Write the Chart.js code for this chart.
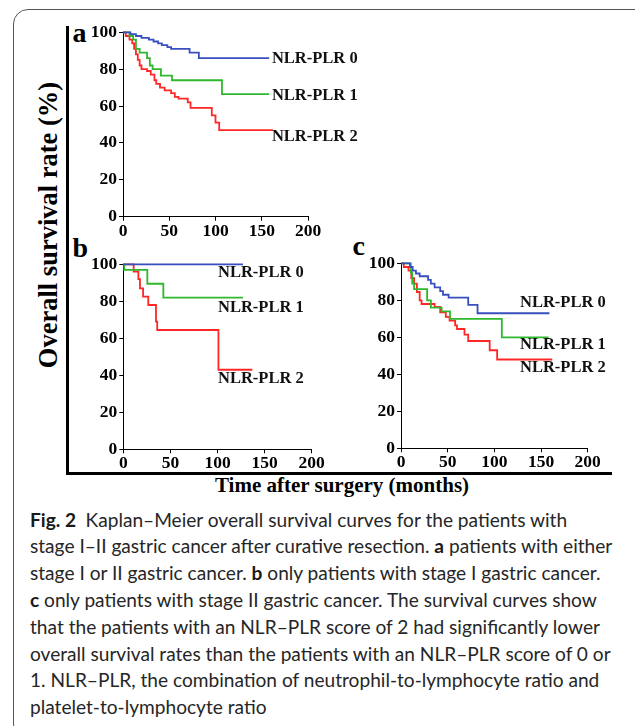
<!DOCTYPE html>
<html>
<head>
<meta charset="utf-8">
<script src="https://cdn.jsdelivr.net/npm/chart.js@4.4.0/dist/chart.umd.min.js"></script>
<style>
html,body{margin:0;padding:0;width:635px;height:726px;overflow:hidden;background:#fff;}
#box{position:absolute;left:13px;top:9px;width:640px;height:730px;border:1.5px solid #555;border-radius:15px;box-sizing:border-box;}
.frameL{position:absolute;left:66px;top:26px;width:2.5px;height:449px;background:#000;}
.frameB{position:absolute;left:66px;top:472px;width:546px;height:2.5px;background:#000;}
.serif{font-family:"Liberation Serif","Times New Roman",serif;font-weight:bold;color:#000;position:absolute;white-space:nowrap;}
.plet{font-size:28px;line-height:28px;}
#xt{font-size:21px;line-height:21px;left:342px;top:475.4px;transform:translateX(-50%);}
#yt{font-size:26.5px;line-height:26.5px;left:48.2px;top:224.5px;transform:translate(-50%,-50%) rotate(-90deg);}
canvas{position:absolute;}
#cap{position:absolute;left:30px;top:506.6px;font-family:Lato,"Noto Sans",sans-serif;color:#262626;line-height:26.8px;font-size:17px;white-space:pre;}
#cap b{font-weight:bold;color:#1a1a1a;}
</style>
</head>
<body>
<div id="box"></div>
<div class="frameL"></div>
<div class="frameB"></div>
<div class="serif plet" style="left:72.5px;top:18.5px;">a</div>
<div class="serif plet" style="left:72.5px;top:233.5px;">b</div>
<div class="serif plet" style="left:352.5px;top:231.5px;">c</div>
<div class="serif" id="xt">Time after surgery (months)</div>
<div class="serif" id="yt">Overall survival rate (%)</div>
<canvas id="ca" width="300" height="240" style="left:70px;top:16px;width:300px;height:240px;"></canvas>
<canvas id="cb" width="262" height="240" style="left:70px;top:248px;width:262px;height:240px;"></canvas>
<canvas id="cc" width="280" height="240" style="left:348px;top:247px;width:280px;height:240px;"></canvas>
<div id="cap"><div id="l1"><b>Fig. 2</b>&ensp;Kaplan–Meier overall survival curves for the patients with</div><div id="l2">stage I–II gastric cancer after curative resection. <b>a</b> patients with either</div><div>stage I or II gastric cancer. <b>b</b> only patients with stage I gastric cancer.</div><div><b>c</b> only patients with stage II gastric cancer. The survival curves show</div><div>that the patients with an NLR–PLR score of 2 had significantly lower</div><div>overall survival rates than the patients with an NLR–PLR score of 0 or</div><div>1. NLR–PLR, the combination of neutrophil-to-lymphocyte ratio and</div><div>platelet-to-lymphocyte ratio</div></div>
<script>
// ---------- data ----------
const xTicks = [0, 50, 100, 150, 200];
const yTicks = [0, 20, 40, 60, 80, 100];
const groupNames = ["NLR-PLR 0", "NLR-PLR 1", "NLR-PLR 2"];

// Panel a: stage I or II
const aBlueT  = [0, 8, 14, 20, 28, 33, 38, 42, 48, 52, 72, 82, 158];
const aBlueS  = [100, 99, 98, 97, 96, 95, 94, 93, 92, 91, 89, 86, 86];
const aGreenT = [0, 7, 11, 14, 18, 26, 29, 32, 41, 53, 107, 158];
const aGreenS = [100, 98, 96, 91, 89, 86, 82, 80, 76.5, 74, 66.5, 66.5];
const aRedT   = [0, 3, 7, 10, 12, 14, 16, 18, 20, 26, 30, 34, 36, 40, 45, 52, 56, 60, 70, 73, 96, 100, 104, 162];
const aRedS   = [100, 98, 96, 94, 91, 88, 85, 82, 80, 79, 77, 74, 72, 70, 68.5, 67, 65, 64, 62, 59, 55, 51, 47, 47];

// Panel b: stage I
const bBlueT  = [0, 127];
const bBlueS  = [100, 100];
const bGreenT = [0, 1, 25.5, 42.5, 127];
const bGreenS = [100, 97, 89.5, 82, 82];
const bRedT   = [0, 11, 16, 17.7, 21, 26.5, 34.7, 36, 101, 137];
const bRedS   = [100, 96, 92, 87, 82.5, 78, 69, 64.5, 43, 43];

// Panel c: stage II
const cBlueT  = [0, 9.6, 12.5, 16, 20, 29, 32, 36, 42, 45, 51, 72, 82, 159];
const cBlueS  = [100, 98, 96, 94.5, 93, 91, 89, 87, 85, 83, 81.5, 77.5, 73, 73];
const cGreenT = [0, 10.5, 12, 14, 28, 32, 43.5, 52.5, 108, 158];
const cGreenS = [100, 95, 89, 86, 80, 76, 74, 70, 60, 60];
const cRedT   = [0, 3, 8, 11, 14, 17, 20, 22, 36, 42, 48, 52, 58, 60, 68, 72, 95, 103, 162];
const cRedS   = [100, 98, 96, 92, 89, 84.5, 80, 78, 76.5, 73.5, 71, 69, 66.5, 64.5, 61.5, 58, 53, 48, 48];

// ---------- rendering ----------
const COLORS = ["#3a4fbf", "#2eb82e", "#ff2626"];
const tickFont = {family: "'Liberation Serif','Times New Roman',serif", weight: "bold", size: 17.5};

function pts(t, s){ return t.map((v,i)=>({x:v, y:s[i]})); }

const labelPlugin = {
  id: 'kmLabels',
  afterDatasetsDraw(chart, args, opts){
    const {ctx, scales:{x, y}} = chart;
    ctx.save();
    ctx.font = "bold 16.5px 'Liberation Serif','Times New Roman',serif";
    ctx.fillStyle = "#111";
    ctx.textAlign = "left";
    ctx.textBaseline = "middle";
    opts.items.forEach((it, i) => {
      ctx.fillText(groupNames[i], x.getPixelForValue(it[0]), y.getPixelForValue(it[1]));
    });
    ctx.restore();
  }
};

function makeChart(id, series, labelPos, cfg){
  new Chart(document.getElementById(id), {
    type: 'scatter',
    data: {
      datasets: series.map((s, i) => ({
        data: pts(s[0], s[1]),
        showLine: true, stepped: true, borderColor: COLORS[i], borderWidth: 1.8,
        pointRadius: 0, fill: false, clip: false
      }))
    },
    options: {
      responsive: false, animation: false, events: [],
      layout: {padding: {top: cfg.top, right: cfg.right, left: 0, bottom: 0}},
      plugins: {legend: {display: false}, tooltip: {enabled: false}, kmLabels: {items: labelPos}},
      scales: {
        x: {
          type: 'linear', min: 0, max: 200,
          afterBuildTicks(s){ s.ticks = xTicks.map(v => ({value: v})); },
          ticks: {color: '#000', font: tickFont, padding: 0, maxRotation: 0, autoSkip: false},
          grid: {drawOnChartArea: false, drawTicks: true, tickLength: 4, color: '#000'},
          border: {color: '#000', width: 1},
          afterFit(s){ s.height = cfg.xh; }
        },
        y: {
          type: 'linear', min: 0, max: 100,
          afterBuildTicks(s){ s.ticks = yTicks.map(v => ({value: v})); },
          ticks: {color: '#000', font: tickFont, padding: 2, autoSkip: false},
          grid: {drawOnChartArea: false, drawTicks: true, tickLength: 4, color: '#000'},
          border: {color: '#000', width: 1},
          afterFit(s){ s.width = cfg.yw; }
        }
      }
    },
    plugins: [labelPlugin]
  });
}

makeChart('ca', [[aBlueT,aBlueS],[aGreenT,aGreenS],[aRedT,aRedS]],
  [[161,85.5],[161,65.5],[161,43.2]], {top:16.3, right:62, xh:39.3, yw:53});
makeChart('cb', [[bBlueT,bBlueS],[bGreenT,bGreenS],[bRedT,bRedS]],
  [[100.5,95.3],[100.5,76.4],[100.5,38]], {top:16.3, right:20.3, xh:38.7, yw:53.3});
makeChart('cc', [[cBlueT,cBlueS],[cGreenT,cGreenS],[cRedT,cRedS]],
  [[127.5,78.5],[127.5,55.9],[127.5,43.5]], {top:16.3, right:40.3, xh:38.7, yw:53});

// fit caption so the second line spans the same width as in the figure
(function(){
  const cap = document.getElementById('cap');
  const l2 = document.getElementById('l2');
  const span = document.createElement('span');
  span.innerHTML = l2.innerHTML;
  span.style.whiteSpace = 'pre';
  l2.innerHTML = ''; l2.appendChild(span);
  const w = span.getBoundingClientRect().width;
  cap.style.fontSize = (17 * 583 / w).toFixed(2) + 'px';
})();
</script>
</body>
</html>
